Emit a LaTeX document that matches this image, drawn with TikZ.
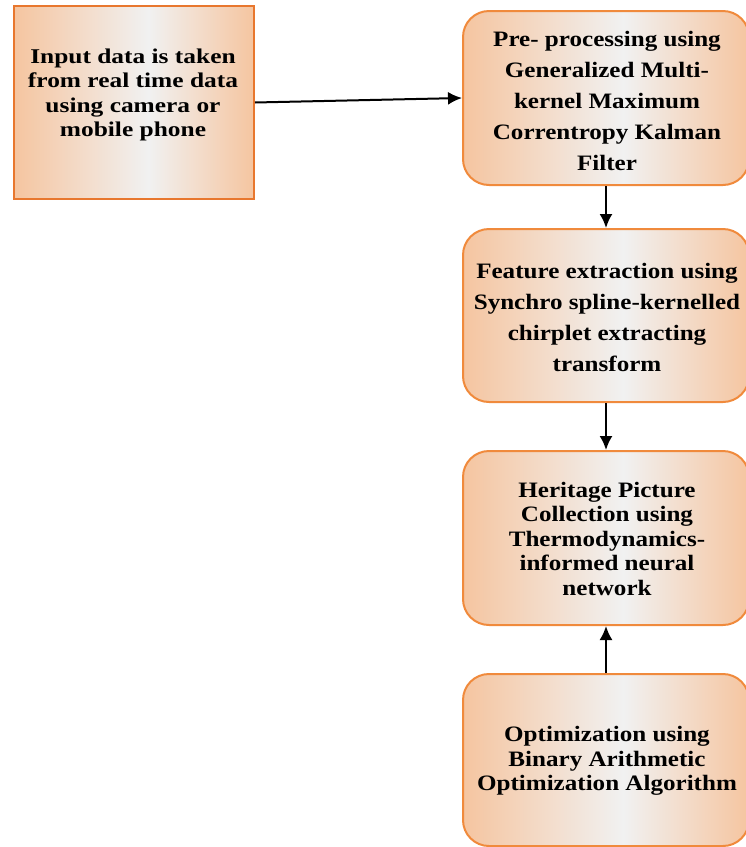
\documentclass[tikz,border=0pt]{standalone}
\usepackage{fontspec}
\setmainfont{Liberation Serif}
\newfontfamily\wideA[FakeStretch=1.21]{Liberation Serif}
\newfontfamily\wideB[FakeStretch=1.14]{Liberation Serif}
\usetikzlibrary{arrows.meta}
\definecolor{pk}{HTML}{F5C5A0}
\definecolor{lg}{HTML}{F1F1F1}
\definecolor{ob}{HTML}{E8772E}
\definecolor{ol}{HTML}{F08A3C}
\pgfdeclarehorizontalshading{peach}{100bp}{color(0bp)=(pk); color(25bp)=(pk); color(53bp)=(lg); color(75bp)=(pk); color(100bp)=(pk)}
\tikzset{
  sqbox/.style={draw=ob, line width=2pt, shading=peach, inner sep=0pt},
  rbox/.style={draw=ol, line width=2pt, shading=peach, inner sep=0pt, rounded corners=26pt, minimum width=286pt},
  txtA/.style={align=center, font=\wideA\bfseries\fontsize{21}{24.5}\selectfont, inner sep=0pt},
  txtB/.style={align=center, font=\wideB\bfseries\fontsize{22}{31}\selectfont, inner sep=0pt},
  txtC/.style={align=center, font=\wideB\bfseries\fontsize{22}{24.5}\selectfont, inner sep=0pt},
  arr/.style={-{Latex[length=14pt,width=13pt]}, line width=2pt, black}
}
\begin{document}
\begin{tikzpicture}[x=1pt,y=-1pt]
\useasboundingbox (0,0) rectangle (746,847);
\node[sqbox, minimum width=240pt, minimum height=193pt] (b1) at (134,102.5) {};
\node[rbox, minimum height=174pt] (b2) at (606,98) {};
\node[rbox, minimum height=173pt] (b3) at (606,315.5) {};
\node[rbox, minimum height=174pt] (b4) at (606,538) {};
\node[rbox, minimum height=172pt] (b5) at (606,760) {};

\node[txtA] (t1) at (133,95) {Input data is taken\\from real time data\\using camera or\\mobile phone};
\node[txtB] (t2) at (607,101) {Pre- processing using\\Generalized Multi-\\kernel Maximum\\Correntropy Kalman\\Filter};
\node[txtB] (t3) at (607,317) {Feature extraction using\\Synchro spline-kernelled\\chirplet extracting\\transform};
\node[txtC] (t4) at (607,538.5) {Heritage Picture\\Collection using\\Thermodynamics-\\informed neural\\network};
\node[txtC] (t5) at (607,761) {Optimization using\\Binary Arithmetic\\Optimization Algorithm};

\draw[arr] (b1.east) -- (b2.west);
\draw[arr] (b2.south) -- (b3.north);
\draw[arr] (b3.south) -- (b4.north);
\draw[arr] (b5.north) -- (b4.south);
\end{tikzpicture}
\end{document}
